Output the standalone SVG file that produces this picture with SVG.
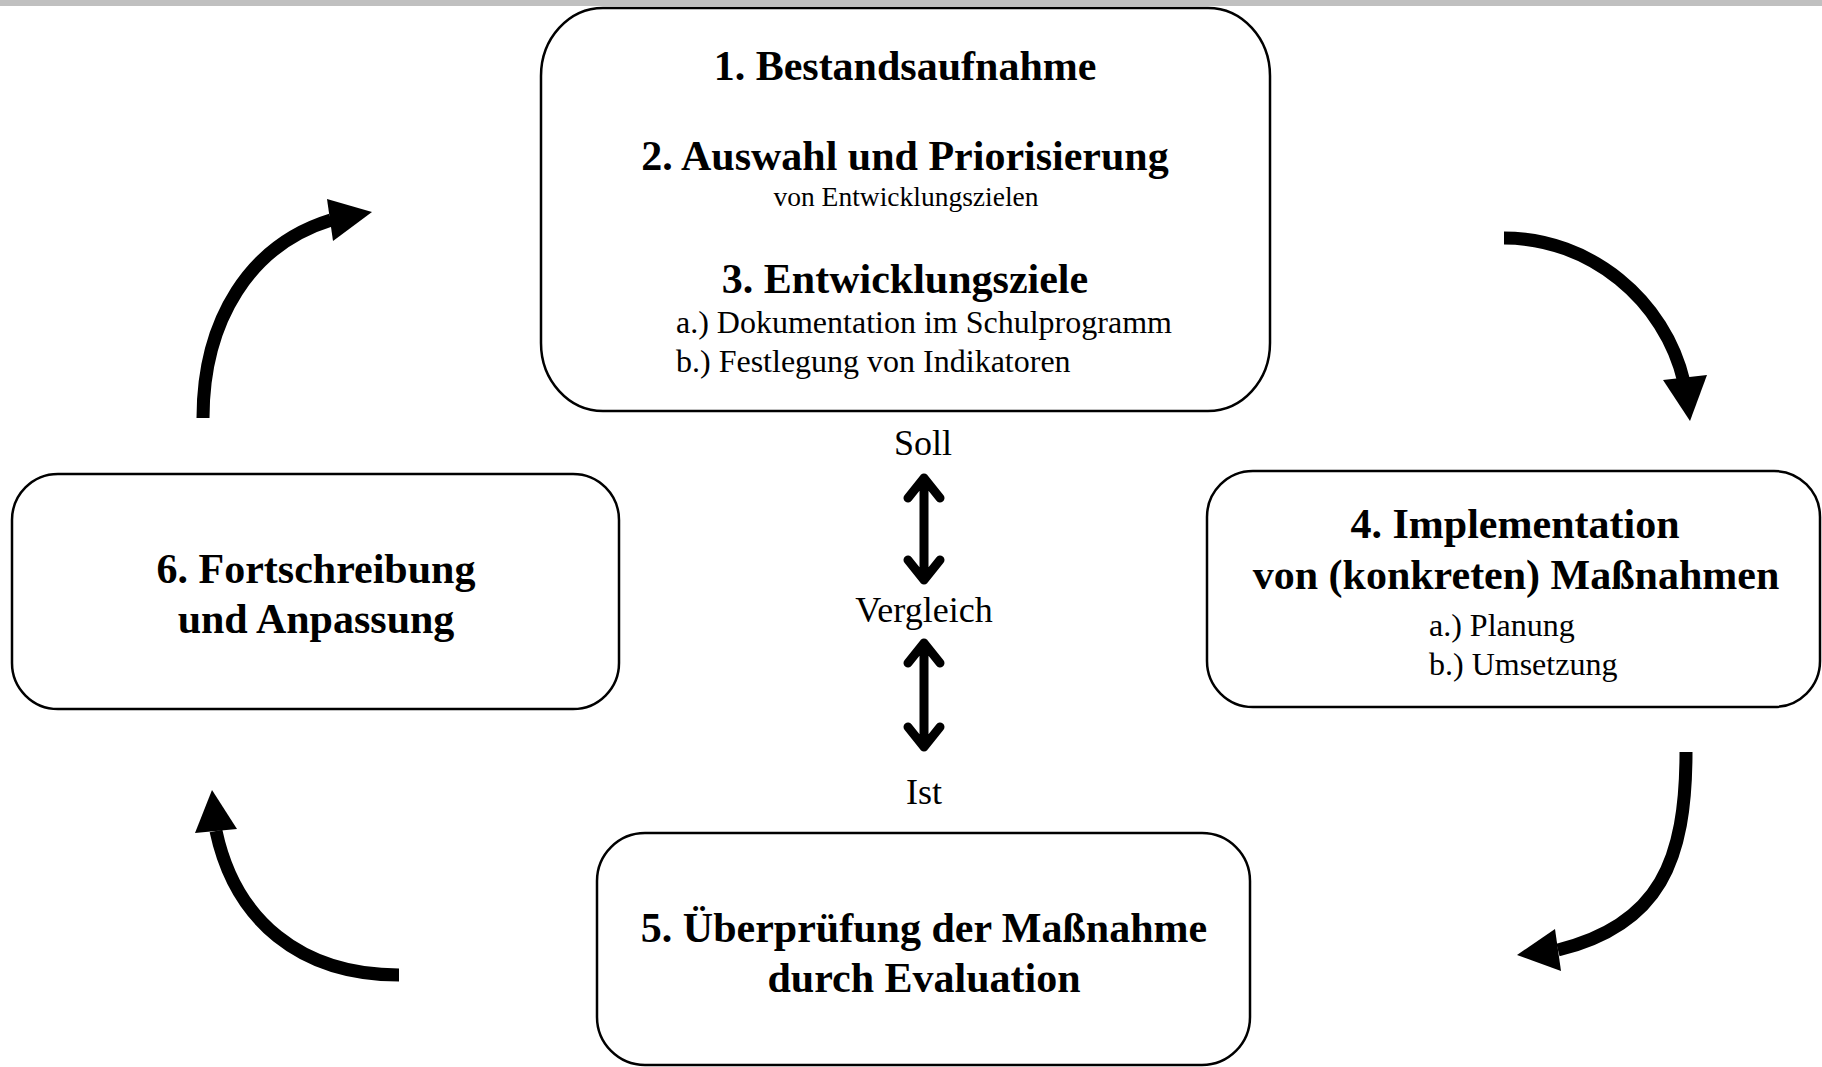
<svg xmlns="http://www.w3.org/2000/svg" width="1822" height="1067" viewBox="0 0 1822 1067">
<style>
.box{fill:#fff;stroke:#000;stroke-width:2.5}
.t{font-family:"Liberation Serif","Times New Roman",serif;fill:#000}
.h{font-size:42px;font-weight:bold;text-anchor:middle}
.s{font-size:32px}
.m{font-size:36px;text-anchor:middle}
.shaft{fill:none;stroke:#000;stroke-width:13}
.dbl{fill:none;stroke:#000;stroke-width:9;stroke-linecap:round;stroke-linejoin:round}
</style>
<rect x="0" y="0" width="1822" height="1067" fill="#fff"/>
<rect x="0" y="0" width="1822" height="6" fill="#c0c0c0"/>
<g id="node1">
<rect class="box" x="541" y="8" width="729" height="403" rx="62" ry="68"/>
<text class="t h" x="905" y="80">1. Bestandsaufnahme</text>
<text class="t h" x="905" y="170">2. Auswahl und Priorisierung</text>
<text class="t" x="906" y="206" font-size="27.5" text-anchor="middle">von Entwicklungszielen</text>
<text class="t h" x="905" y="293">3. Entwicklungsziele</text>
<text class="t s" x="676" y="333">a.) Dokumentation im Schulprogramm</text>
<text class="t s" x="676" y="372">b.) Festlegung von Indikatoren</text>
</g>
<g id="node4">
<rect class="box" x="1207" y="471" width="613" height="236" rx="46" ry="46"/>
<text class="t h" x="1515" y="538">4. Implementation</text>
<text class="t h" x="1516" y="589">von (konkreten) Maßnahmen</text>
<text class="t s" x="1429" y="636">a.) Planung</text>
<text class="t s" x="1429" y="675">b.) Umsetzung</text>
</g>
<g id="node5">
<rect class="box" x="597" y="833" width="653" height="232" rx="48" ry="48"/>
<text class="t h" x="924" y="942">5. Überprüfung der Maßnahme</text>
<text class="t h" x="924" y="992">durch Evaluation</text>
</g>
<g id="node6">
<rect class="box" x="12" y="474" width="607" height="235" rx="46" ry="46"/>
<text class="t h" x="316" y="583">6. Fortschreibung</text>
<text class="t h" x="316" y="633">und Anpassung</text>
</g>
<g id="compare">
<text class="t m" x="923" y="455">Soll</text>
<text class="t m" x="924" y="622">Vergleich</text>
<text class="t m" x="924" y="804">Ist</text>
</g>
<g id="connectors">
<path class="shaft" d="M1504,238 C1590,238 1665,300 1684,382"/>
<polygon points="1663,380 1707,375 1690,421"/>
<path class="shaft" d="M1686,752 C1686,860 1660,925 1558,950"/>
<polygon points="1555,929 1561,971 1517,955"/>
<path class="shaft" d="M399,975 C300,975 235,920 216,831"/>
<polygon points="195,833 237,829 212,790"/>
<path class="shaft" d="M203,418 C203,320 250,245 331,220"/>
<polygon points="327,199 333,241 372,212"/>
<path class="dbl" d="M924,478 L924,580 M908,498 L924,478 L940,498 M908,560 L924,580 L940,560"/>
<path class="dbl" d="M924,643 L924,747 M908,663 L924,643 L940,663 M908,727 L924,747 L940,727"/>
</g>
</svg>
